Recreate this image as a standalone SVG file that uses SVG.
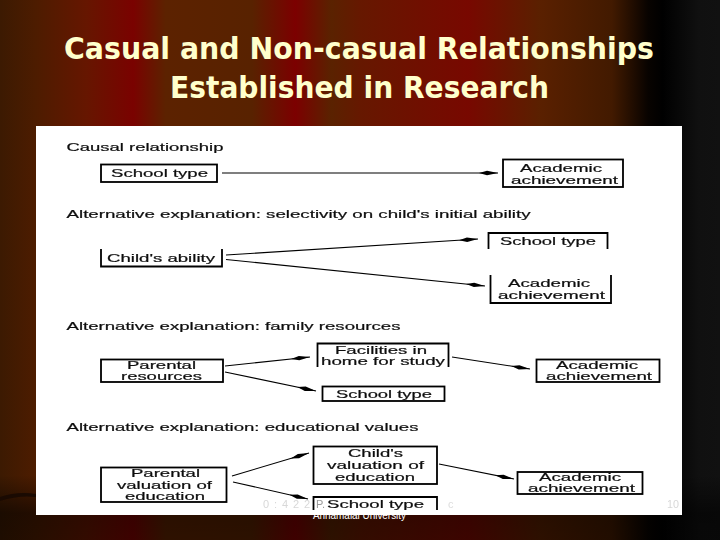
<svg xmlns="http://www.w3.org/2000/svg" width="720" height="540" viewBox="0 0 720 540">
<style>
text{font-family:"Liberation Sans",Arial,sans-serif;}
.t{font-size:10.500px;fill:#111;stroke:#111;stroke-width:.2px;}
.b{fill:#fff;stroke:#000;stroke-width:1.8;}
.o{fill:none;stroke:#000;stroke-width:1.8;}
.c{fill:none;stroke:#000;stroke-width:1.1;marker-end:url(#a);}
.h{font-family:"DejaVu Sans",Verdana,sans-serif;font-weight:bold;font-size:31px;fill:#ffffcc;}
.f{font-size:11px;fill:#d8d8d8;}
</style>
<defs>
<linearGradient id="bg" x1="0" x2="1" y1="0" y2="0">
<stop offset="0" stop-color="#3c1a02"/>
<stop offset=".05" stop-color="#4d1c00"/>
<stop offset=".12" stop-color="#661600"/>
<stop offset=".185" stop-color="#7a0200"/>
<stop offset=".23" stop-color="#5c2200"/>
<stop offset=".35" stop-color="#582200"/>
<stop offset=".41" stop-color="#7c0000"/>
<stop offset=".46" stop-color="#5a2200"/>
<stop offset=".5" stop-color="#661800"/>
<stop offset=".65" stop-color="#780800"/>
<stop offset=".75" stop-color="#5a2000"/>
<stop offset=".85" stop-color="#421a00"/>
<stop offset=".9" stop-color="#080300"/>
<stop offset=".92" stop-color="#000"/>
<stop offset=".97" stop-color="#101010"/>
<stop offset="1" stop-color="#111"/>
</linearGradient>
<linearGradient id="sh" x1="0" x2="0" y1="0" y2="1">
<stop offset="0" stop-color="#000" stop-opacity="0"/>
<stop offset=".88" stop-color="#000" stop-opacity="0"/>
<stop offset=".95" stop-color="#000" stop-opacity=".55"/>
<stop offset="1" stop-color="#000" stop-opacity=".5"/>
</linearGradient>
<marker id="a" markerUnits="userSpaceOnUse" markerWidth="20" markerHeight="7" refX="19" refY="3" orient="auto">
<path d="M0 3L8 .8L19 3L8 5.200Z" fill="#000"/>
</marker>
<filter id="s" x="-5%" y="-5%" width="110%" height="110%"><feGaussianBlur stdDeviation=".4"/></filter>
</defs>
<rect width="720" height="540" fill="url(#bg)"/>
<rect width="720" height="540" fill="url(#sh)"/>
<path d="M0 497Q18 491 36 494V497Q18 495 0 501Z" fill="#1a0a02"/>
<text class="f" x="313" y="519" style="fill:#fff" textLength="93" lengthAdjust="spacingAndGlyphs">Annamalai University</text>
<rect x="36" y="126" width="646" height="389" fill="#fff"/>
<g id="title">
<text class="h" x="64" y="59" textLength="590" lengthAdjust="spacingAndGlyphs">Casual and Non-casual Relationships</text>
<text class="h" x="170" y="98" textLength="379" lengthAdjust="spacingAndGlyphs">Established in Research</text>
</g>
<g filter="url(#s)">
<g id="headings">
<text class="t" x="66.500" y="151" textLength="157" lengthAdjust="spacingAndGlyphs">Causal relationship</text>
<text class="t" x="66.500" y="218" textLength="464" lengthAdjust="spacingAndGlyphs">Alternative explanation: selectivity on child's initial ability</text>
<text class="t" x="66.500" y="330" textLength="334" lengthAdjust="spacingAndGlyphs">Alternative explanation: family resources</text>
<text class="t" x="66.500" y="431" textLength="352" lengthAdjust="spacingAndGlyphs">Alternative explanation: educational values</text>
</g>
<g id="connectors">
<path class="c" d="M222 173H498"/>
<path class="c" d="M226 255L478 239"/>
<path class="c" d="M226 259.500L485 286"/>
<path class="c" d="M225 366L310 357"/>
<path class="c" d="M225 372L316 391"/>
<path class="c" d="M452 357L530 369"/>
<path class="c" d="M232 476L309 453"/>
<path class="c" d="M233 482L308 499"/>
<path class="c" d="M439 464L514 479"/>
</g>
<g id="n1"><rect class="b" x="101" y="164.500" width="116" height="17.500"/><text class="t" x="111" y="177" textLength="97" lengthAdjust="spacingAndGlyphs">School type</text></g>
<g id="n2"><rect class="b" x="503" y="159.500" width="120" height="27.500"/><text class="t" x="520" y="172" textLength="82" lengthAdjust="spacingAndGlyphs">Academic</text><text class="t" x="511" y="183.500" textLength="107" lengthAdjust="spacingAndGlyphs">achievement</text></g>
<g id="n3"><path class="o" d="M101 249V266.500H222V249"/><text class="t" x="107" y="262" textLength="108" lengthAdjust="spacingAndGlyphs">Child's ability</text></g>
<g id="n4"><path class="o" d="M488.500 249V233H607.500V249"/><text class="t" x="500" y="244.500" textLength="96" lengthAdjust="spacingAndGlyphs">School type</text></g>
<g id="n5"><path class="o" d="M490.500 275V303H611V275"/><text class="t" x="508" y="287" textLength="82" lengthAdjust="spacingAndGlyphs">Academic</text><text class="t" x="498" y="299" textLength="107" lengthAdjust="spacingAndGlyphs">achievement</text></g>
<g id="n6"><rect class="b" x="101" y="359.500" width="122" height="22.500"/><text class="t" x="127" y="369" textLength="69" lengthAdjust="spacingAndGlyphs">Parental</text><text class="t" x="121" y="380" textLength="81" lengthAdjust="spacingAndGlyphs">resources</text></g>
<g id="n7"><path class="o" d="M317.500 367V343.500H448.500V367"/><text class="t" x="335" y="353.500" textLength="92" lengthAdjust="spacingAndGlyphs">Facilities in</text><text class="t" x="321" y="365" textLength="124" lengthAdjust="spacingAndGlyphs">home for study</text></g>
<g id="n8"><rect class="b" x="322.500" y="386.500" width="122" height="14.500"/><text class="t" x="336" y="397.500" textLength="96" lengthAdjust="spacingAndGlyphs">School type</text></g>
<g id="n9"><rect class="b" x="536.500" y="359.500" width="123" height="22.500"/><text class="t" x="556" y="369" textLength="82" lengthAdjust="spacingAndGlyphs">Academic</text><text class="t" x="546" y="380" textLength="106" lengthAdjust="spacingAndGlyphs">achievement</text></g>
<g id="n10"><rect class="b" x="101" y="467.500" width="125.500" height="34.500"/><text class="t" x="131" y="477" textLength="69" lengthAdjust="spacingAndGlyphs">Parental</text><text class="t" x="117" y="489" textLength="95" lengthAdjust="spacingAndGlyphs">valuation of</text><text class="t" x="125" y="500" textLength="80" lengthAdjust="spacingAndGlyphs">education</text></g>
<g id="n11"><rect class="b" x="313.500" y="446.500" width="123.500" height="37.500"/><text class="t" x="348" y="457" textLength="55" lengthAdjust="spacingAndGlyphs">Child's</text><text class="t" x="327" y="469" textLength="97" lengthAdjust="spacingAndGlyphs">valuation of</text><text class="t" x="335" y="480.500" textLength="80" lengthAdjust="spacingAndGlyphs">education</text></g>
<g id="n12"><rect class="b" x="517.500" y="472" width="125" height="22"/><text class="t" x="539" y="481" textLength="82" lengthAdjust="spacingAndGlyphs">Academic</text><text class="t" x="528" y="492" textLength="107" lengthAdjust="spacingAndGlyphs">achievement</text></g>
<g id="n13"><path class="o" d="M313.500 510V497H437V510"/><text class="t" x="327" y="508" textLength="97" lengthAdjust="spacingAndGlyphs">School type</text></g>
<g id="footer">
<text class="f" x="263" y="508" textLength="47" lengthAdjust="spacing">0 : 4 2 2</text>
<text class="f" x="316" y="508" style="fill:#999">P.</text>
<text class="f" x="448" y="508" style="fill:#ddd">c</text>
<text class="f" x="667" y="508" textLength="12" lengthAdjust="spacingAndGlyphs">10</text>
</g>
</g>
</svg>
